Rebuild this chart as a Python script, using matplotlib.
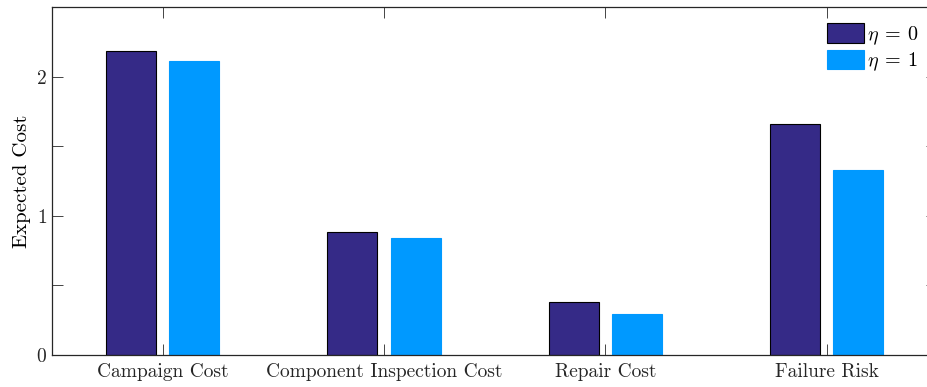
import numpy as np
import matplotlib.pyplot as plt

plt.rcParams['font.family'] = ['cmr10', 'DejaVu Serif']
plt.rcParams['mathtext.fontset'] = 'cm'
plt.rcParams['axes.formatter.use_mathtext'] = True

categories = ['Campaign Cost', 'Component Inspection Cost', 'Repair Cost', 'Failure Risk']
cost_eta0 = [2.18, 0.885, 0.381, 1.662]
cost_eta1 = [2.115, 0.842, 0.295, 1.331]

x = np.arange(1, len(categories) + 1)
w = 0.226
off = 0.143

fig = plt.figure(figsize=(9.28, 3.87), dpi=100)
ax = fig.add_axes([0.056, 0.083, 0.954, 0.899])

ax.bar(x - off, cost_eta0, w, color='#352a87', edgecolor='black', linewidth=0.8,
       label=r'$\eta\:=\:0$')
ax.bar(x + off, cost_eta1, w, color='#0099ff', edgecolor='#0099ff', linewidth=0.8,
       label=r'$\eta\:=\:1$')

ax.set_xlim(0.5, 4.5)
ax.set_ylim(0, 2.5)
ax.set_xticks(x)
ax.set_xticklabels(categories)
ax.set_yticks([0, 1, 2])
ax.set_yticks([0.5, 1.5], minor=True)
ax.set_ylabel('Expected Cost', fontsize=15)

for s in ax.spines.values():
    s.set_color('#262626')
    s.set_linewidth(0.9)
ax.spines['right'].set_visible(False)

ax.tick_params(which='both', direction='in', top=True, right=True, color='#262626',
               labelsize=14, labelcolor='#262626', width=0.6)
ax.tick_params(which='major', length=8)
ax.tick_params(which='minor', length=8)
ax.tick_params(axis='x', length=8, pad=6)

ax.legend(loc='upper right', frameon=False, fontsize=14.5, handlelength=1.85,
          handleheight=1.1, handletextpad=0.15, labelspacing=0.15,
          bbox_to_anchor=(1.0, 1.005))

fig.savefig('out.png', dpi=100)
